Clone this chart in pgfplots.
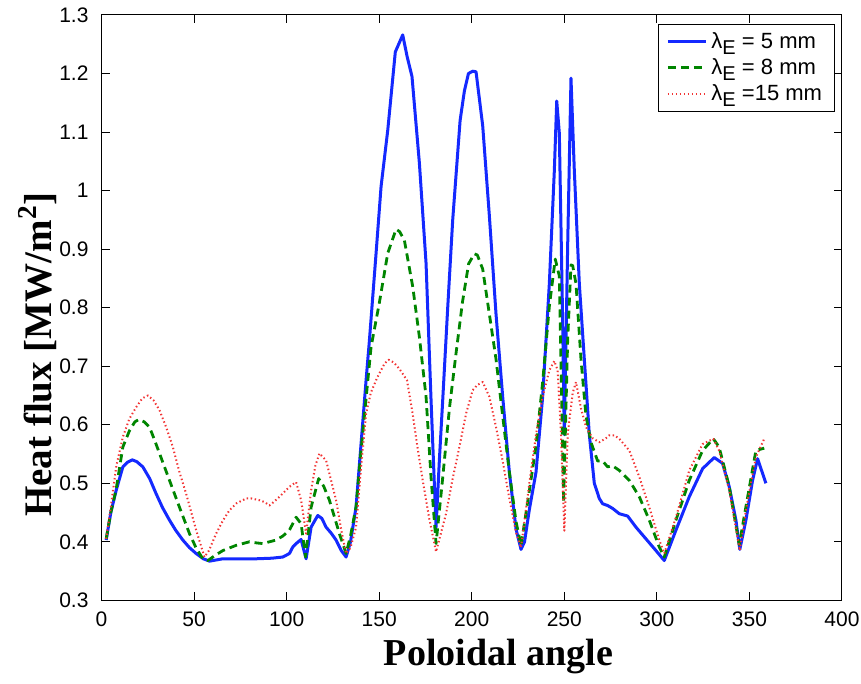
\documentclass[border=0pt]{standalone}
\usepackage{fontspec}
\setmainfont{Liberation Sans}
\newfontfamily\labelfont{Liberation Serif}
\usepackage{pgfplots}
\pgfplotsset{compat=1.18}

\definecolor{fluxblue}{rgb}{0.08,0.16,1.0}
\definecolor{fluxgreen}{rgb}{0.0,0.52,0.0}
\definecolor{fluxred}{rgb}{0.95,0.2,0.2}

\newcommand{\lamE}{λ\raisebox{-0.55ex}{\fontsize{10}{10}\selectfont E}}

\begin{document}
\begin{tikzpicture}
\begin{axis}[
  name=ax,
  scale only axis,
  width=370pt, height=292.5pt,
  xmin=0, xmax=400, ymin=0.3, ymax=1.3,
  xtick={0,50,100,150,200,250,300,350,400},
  xticklabels={0,50,100,150,200,250,300,350,400},
  ytick={0.3,0.4,0.5,0.6,0.7,0.8,0.9,1.0,1.1,1.2,1.3},
  yticklabels={0.3,0.4,0.5,0.6,0.7,0.8,0.9,1,1.1,1.2,1.3},
  tick align=inside,
  major tick length=4pt,
  tick style={black, line width=0.5pt},
  axis line style={black, line width=0.5pt},
  ticklabel style={font=\fontsize{10.5}{12}\selectfont},
  yticklabel style={xshift=-3pt},
  xticklabel style={yshift=-2pt},
  /pgf/number format/assume math mode=true,
  xlabel={Poloidal angle},
  ylabel={Heat flux [MW/m\textsuperscript{2}]},
  xlabel style={font=\labelfont\bfseries\fontsize{19}{22}\selectfont,
    at={(axis description cs:0.536,-0.111)}, anchor=base},
  ylabel style={font=\labelfont\bfseries\fontsize{19.5}{22}\selectfont,
    at={(axis description cs:-0.087,0.42)}, anchor=center},
  legend style={at={(axis description cs:0.99,0.985)}, anchor=north east,
    draw=black, line width=0.5pt, fill=white,
    font=\fontsize{11}{13}\selectfont,
    inner xsep=4pt, inner ysep=2pt, row sep=-0.5pt},
  legend cell align=left,
  legend image code/.code={\draw[#1] (0pt,0pt) -- (19pt,0pt);},
  every axis plot/.append style={line join=round},
]

% lambda_E = 5 mm
\addplot[fluxblue, line width=1.5pt] coordinates {
(2.5,0.403) (5,0.45) (7.9,0.488) (11.5,0.528) (14,0.536) (16.6,0.540)
(19,0.537) (22.3,0.528) (26,0.508) (29.5,0.482) (33,0.458) (36.7,0.437)
(40,0.42) (43.9,0.403) (47.5,0.39) (51.1,0.380) (55,0.371) (58.3,0.367)
(62,0.369) (65.5,0.371) (75,0.371) (83.5,0.371) (92,0.372) (97.9,0.374)
(101.5,0.38) (103.3,0.391) (105.5,0.398) (107.8,0.404) (110.5,0.371)
(113.2,0.425) (116.8,0.445) (119,0.44) (121.3,0.425) (124,0.415)
(126.7,0.403) (129.5,0.385) (132.1,0.374) (134.5,0.40) (137.5,0.46)
(140,0.56) (142.9,0.676) (144.7,0.744) (148.3,0.893) (151,1.007)
(154.6,1.103) (158.7,1.237) (162.7,1.266) (165,1.23) (167.7,1.195)
(171.7,1.047) (175.3,0.876) (178,0.642) (180.7,0.425) (182.5,0.54)
(184.3,0.642) (187,0.80) (189.7,0.95) (193.7,1.12) (196,1.17) (198.2,1.2)
(200.5,1.204) (202.3,1.203) (205.9,1.111) (209.5,0.957) (213.1,0.789)
(216.7,0.648) (220.3,0.519) (223.9,0.422) (226.6,0.387) (228.5,0.40)
(231.1,0.455) (234.7,0.519) (238.3,0.648) (241.9,0.841) (244.6,1.034)
(245.9,1.153) (247.3,1.098) (249.1,0.776) (250,0.583) (251.8,0.905)
(253.6,1.192) (255.4,1.034) (258.1,0.841) (260.8,0.712) (263.5,0.583)
(266.2,0.50) (268.9,0.474) (270.7,0.465) (273.4,0.462) (276.1,0.457)
(279.7,0.448) (284.2,0.444) (288.7,0.425) (294.1,0.405) (299.5,0.385)
(304,0.368) (310.3,0.42) (317.5,0.477) (324.7,0.525) (331,0.544)
(335.5,0.534) (339.1,0.494) (342.7,0.437) (344.8,0.387) (348.1,0.437)
(351.7,0.505) (354.4,0.542) (358.9,0.50)
};
\addlegendentry{\lamE\ = 5 mm}

% lambda_E = 8 mm
\addplot[fluxgreen, line width=1.4pt, dash pattern=on 4pt off 2.5pt] coordinates {
(2.5,0.405) (5,0.45) (7.9,0.49) (11.5,0.562) (15.1,0.59) (18,0.605)
(20.2,0.609) (23,0.605) (25.9,0.596) (28.5,0.575) (31.3,0.551) (36.7,0.505)
(42.1,0.459) (47.5,0.414) (51,0.39) (54.7,0.371) (57.4,0.368) (61,0.376)
(65.5,0.385) (72.7,0.394) (79.9,0.400) (84,0.398) (87.1,0.397) (94.3,0.403)
(98,0.41) (101.5,0.42) (105.1,0.442) (107.8,0.431) (110.2,0.374)
(113.2,0.459) (117.3,0.508) (120,0.495) (123.1,0.471) (128.5,0.414)
(132.1,0.38) (134.5,0.41) (137.5,0.46) (140,0.55) (142.9,0.645)
(145.6,0.733) (150,0.807) (154.6,0.893) (159.1,0.934) (161,0.93)
(163.6,0.915) (168.1,0.836) (171.7,0.75) (175.3,0.648) (178,0.51)
(180.7,0.397) (184,0.50) (188,0.63) (191.5,0.722) (195,0.81) (198.3,0.875)
(201.4,0.892) (203,0.89) (205.9,0.866) (209.5,0.789) (213.1,0.712)
(216.7,0.615) (220.3,0.519) (223.9,0.435) (226.6,0.393) (231.1,0.487)
(234.7,0.564) (238.3,0.673) (241.9,0.802) (245.1,0.883) (247.3,0.854)
(249.6,0.467) (251.8,0.744) (253.6,0.873) (254.5,0.872) (256.3,0.841)
(259,0.712) (261.7,0.615) (264.4,0.57) (268,0.538) (270.7,0.538)
(273.4,0.528) (276,0.53) (279.7,0.522) (285.1,0.505) (290.5,0.477)
(295.9,0.437) (301.3,0.391) (304,0.374) (310.3,0.437) (317.5,0.505)
(324.7,0.556) (330.5,0.576) (333.6,0.562) (339.1,0.494) (344.5,0.395)
(348.1,0.46) (353.5,0.556) (358,0.56)
};
\addlegendentry{\lamE\ = 8 mm}

% lambda_E = 15 mm
\addplot[fluxred, line width=1pt, dash pattern=on 0.7pt off 1.3pt] coordinates {
(2.5,0.405) (5,0.46) (8,0.53) (11.5,0.579) (15,0.61) (18.7,0.630)
(22,0.645) (25,0.650) (28,0.642) (31.3,0.625) (35,0.595) (38.5,0.562)
(42,0.52) (45.7,0.482) (51.1,0.42) (55.6,0.374) (58,0.385) (61.9,0.414)
(65.5,0.436) (69.1,0.454) (73,0.466) (78.1,0.474) (81,0.474) (85.3,0.471)
(88,0.468) (90.7,0.462) (93,0.468) (96.1,0.477) (101.5,0.494)
(105.1,0.502) (107.8,0.471) (110.5,0.414) (113.2,0.488) (115.5,0.53)
(117.7,0.551) (121.3,0.539) (124,0.505) (126.7,0.471) (129.5,0.42)
(132.1,0.38) (134.5,0.39) (137.5,0.425) (140,0.52) (142.9,0.619)
(145.5,0.655) (148.3,0.676) (150.1,0.688) (153,0.705) (155.1,0.711)
(158,0.706) (161,0.695) (165,0.676) (168,0.62) (170.5,0.565)
(173.5,0.505) (177,0.44) (180.7,0.383) (186.1,0.448) (189.5,0.505)
(193.3,0.562) (197,0.62) (200.5,0.659) (203,0.668) (205.9,0.673)
(209.5,0.648) (213.1,0.596) (216.7,0.538) (220.3,0.474) (223.9,0.416)
(226.6,0.39) (231.1,0.50) (234.7,0.583) (238.3,0.648) (241.9,0.693)
(244.6,0.709) (246.4,0.693) (248.2,0.583) (250,0.419) (251.8,0.583)
(254.5,0.654) (256.3,0.673) (259,0.628) (261.7,0.596) (265.3,0.577)
(268.9,0.57) (272.5,0.577) (274.3,0.582) (277,0.582) (279.7,0.576)
(285.1,0.556) (290.5,0.511) (295.9,0.459) (301.3,0.403) (304,0.38)
(310.3,0.442) (317.5,0.522) (324.7,0.567) (330.5,0.576) (333.6,0.556)
(339.1,0.488) (344.8,0.385) (348.1,0.454) (353.5,0.545) (358,0.576)
};
\addlegendentry{\lamE\ =15 mm}
\end{axis}
\pgfresetboundingbox
\path[use as bounding box] ([shift={(-50.75pt,-41.5pt)}]ax.south west)
  rectangle ([shift={(9.5pt,7.5pt)}]ax.north east);
\end{tikzpicture}
\end{document}
